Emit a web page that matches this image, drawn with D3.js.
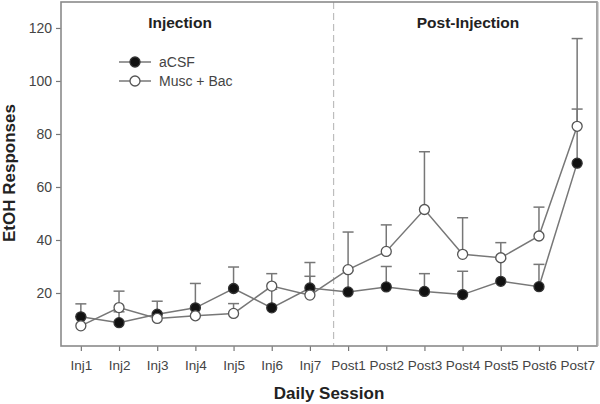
<!DOCTYPE html>
<html>
<head>
<meta charset="utf-8">
<script src="https://cdn.jsdelivr.net/npm/d3@7"></script>
<style>
  html, body { margin: 0; padding: 0; background: #fff; }
  svg { display: block; font-family: "Liberation Sans", Arial, sans-serif; }
</style>
</head>
<body>
<svg id="chart" width="600" height="404"></svg>
<script>
const sessions = ["Inj1","Inj2","Inj3","Inj4","Inj5","Inj6","Inj7",
                  "Post1","Post2","Post3","Post4","Post5","Post6","Post7"];
const aCSF      = [11.0, 8.8, 12.0, 14.4, 21.7, 14.4, 21.9, 20.4, 22.3, 20.6, 19.4, 24.4, 22.4, 69.0];
const aCSFErr   = [4.9, 4.1, 4.9, 9.2, 8.1, 7.0, 4.4, 8.0, 7.7, 6.7, 8.8, 8.5, 8.4, 20.4];
const muscBac   = [7.6, 14.5, 10.4, 11.4, 12.3, 22.6, 19.2, 28.8, 35.7, 51.5, 34.6, 33.3, 41.5, 82.9];
const muscBacErr= [3.5, 6.2, 2.0, 3.0, 3.7, 4.7, 12.3, 14.2, 10.0, 21.8, 13.8, 5.7, 10.9, 33.1];
const yTicks    = [20, 40, 60, 80, 100, 120];
const phaseLabels = ["Injection", "Post-Injection"];
const seriesNames = ["aCSF", "Musc + Bac"];

const svg = d3.select("#chart");
const L = 61, R = 597, T = 2, B = 346;

const x = d3.scaleLinear().domain([-0.52, sessions.length - 1 + 0.52]).range([L, R]);
const y = d3.scaleLinear().domain([0, 129.8]).range([B, T]);

const lineCol = "#777";

// dashed separator between phases
const sepIdx = 6.62;
svg.append("line")
  .attr("x1", x(sepIdx)).attr("x2", x(sepIdx))
  .attr("y1", T).attr("y2", B)
  .attr("stroke", "#bdbdbd").attr("stroke-width", 1.2)
  .attr("stroke-dasharray", "7,4");

// axes
const yAxis = d3.axisLeft(y).tickValues(yTicks).tickSize(5).tickPadding(4);
const gy = svg.append("g").attr("transform", `translate(${L},0)`).call(yAxis);
gy.select(".domain").remove();
gy.selectAll("line").attr("stroke", "#777").attr("stroke-width", 1.2);
gy.selectAll("text").attr("fill", "#444").style("font-size", "14px");

const xAxis = d3.axisBottom(x).tickValues(d3.range(sessions.length))
  .tickFormat(i => sessions[i]).tickSize(5).tickPadding(9);
const gx = svg.append("g").attr("transform", `translate(0,${B})`).call(xAxis);
gx.select(".domain").remove();
gx.selectAll("line").attr("stroke", "#777").attr("stroke-width", 1.2);
gx.selectAll("text").attr("fill", "#444").style("font-size", "13.5px");

// frame
svg.append("rect")
  .attr("x", L).attr("y", T).attr("width", R - L).attr("height", B - T)
  .attr("fill", "none").attr("stroke", "#8a8a8a").attr("stroke-width", 1.6);
svg.append("line").attr("x1", R + 0.5).attr("x2", R + 0.5).attr("y1", T).attr("y2", B)
  .attr("stroke", "#aaa").attr("stroke-width", 2);

// error bars (upper only)
function errBars(vals, errs) {
  const g = svg.append("g").attr("stroke", lineCol).attr("stroke-width", 1.5).attr("fill", "none");
  vals.forEach((v, i) => {
    const cx = x(i), y0 = y(v), y1 = y(v + errs[i]);
    g.append("line").attr("x1", cx).attr("x2", cx).attr("y1", y0).attr("y2", y1);
    g.append("line").attr("x1", cx - 5.5).attr("x2", cx + 5.5).attr("y1", y1).attr("y2", y1);
  });
}
errBars(aCSF, aCSFErr);
errBars(muscBac, muscBacErr);

const line = d3.line().x((d, i) => x(i)).y(d => y(d));
[aCSF, muscBac].forEach(vals => {
  svg.append("path").datum(vals).attr("d", line)
    .attr("fill", "none").attr("stroke", lineCol).attr("stroke-width", 1.5);
});

function markers(vals, fill, stroke) {
  svg.append("g").selectAll("circle").data(vals).join("circle")
    .attr("cx", (d, i) => x(i)).attr("cy", d => y(d)).attr("r", 5)
    .attr("fill", fill).attr("stroke", stroke).attr("stroke-width", 1.3);
}
markers(aCSF, "#111", "#333");
markers(muscBac, "#fff", "#555");

// phase titles
svg.append("text").attr("x", 180).attr("y", 28).attr("text-anchor", "middle")
  .style("font-size", "15.5px").style("font-weight", "bold").attr("fill", "#222").text(phaseLabels[0]);
svg.append("text").attr("x", 468).attr("y", 28).attr("text-anchor", "middle")
  .style("font-size", "15.5px").style("font-weight", "bold").attr("fill", "#222").text(phaseLabels[1]);

// legend
const leg = svg.append("g");
[["#111", "#333"], ["#fff", "#555"]].forEach((c, k) => {
  const ly = 62 + k * 19;
  leg.append("line").attr("x1", 119).attr("x2", 151).attr("y1", ly).attr("y2", ly)
    .attr("stroke", lineCol).attr("stroke-width", 1.5);
  leg.append("circle").attr("cx", 135).attr("cy", ly).attr("r", 5)
    .attr("fill", c[0]).attr("stroke", c[1]).attr("stroke-width", 1.3);
  leg.append("text").attr("x", 159).attr("y", ly + 5).style("font-size", "14px")
    .attr("fill", "#444").text(seriesNames[k]);
});

// axis titles
svg.append("text").attr("x", (L + R) / 2).attr("y", 399).attr("text-anchor", "middle")
  .style("font-size", "17px").style("font-weight", "bold").attr("fill", "#222").text("Daily Session");
svg.append("text").attr("transform", "translate(15,173) rotate(-90)").attr("text-anchor", "middle")
  .style("font-size", "17px").style("font-weight", "bold").attr("fill", "#222").text("EtOH Responses");
</script>
</body>
</html>
